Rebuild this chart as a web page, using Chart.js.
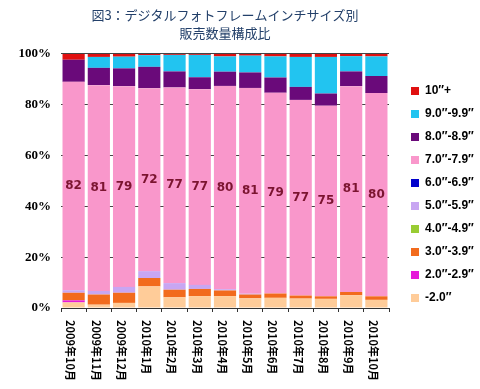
<!DOCTYPE html>
<html>
<head>
<meta charset="utf-8">
<script src="https://cdn.jsdelivr.net/npm/chart.js@4"></script>
<style>
  body { margin: 0; background: #fff; }
</style>
</head>
<body>
<canvas id="myChart" width="480" height="389"></canvas>
<script>
'use strict';

let months = ['2009年10月', '2009年11月', '2009年12月', '2010年1月', '2010年2月', '2010年3月', '2010年4月',
  '2010年5月', '2010年6月', '2010年7月', '2010年8月', '2010年9月', '2010年10月'];

// share of units sold per size band, % (bottom of the stack first)
let under2 = [2.2, 1.3, 2.0, 8.5, 4.2, 4.7, 4.7, 3.8, 4.0, 3.7, 3.6, 5.0, 3.2];
let size2 = [0.8, 0, 0, 0, 0, 0, 0, 0, 0, 0, 0, 0, 0];
let size3 = [3.0, 4.0, 4.0, 3.3, 3.0, 2.8, 2.2, 1.5, 1.7, 1.2, 1.0, 1.3, 1.4];
let size4 = [0, 0, 0, 0, 0, 0, 0, 0, 0, 0, 0, 0, 0];
let size5 = [1.0, 1.4, 2.3, 2.7, 2.6, 1.6, 0.5, 0.3, 0, 0, 0, 0, 0];
let size6 = [0, 0, 0, 0, 0, 0, 0, 0, 0, 0, 0, 0, 0];
let size7 = [82, 81, 79, 72, 77, 77, 80, 81, 79, 77, 75, 81, 80];
let size8 = [8.7, 6.8, 7.0, 8.4, 6.3, 4.7, 5.6, 6.1, 6.0, 5.1, 4.8, 5.8, 6.7];
let size9 = [0, 4.3, 4.6, 4.6, 6.5, 8.8, 6.0, 6.6, 8.3, 11.8, 14.4, 6.0, 7.7];
let size10 = [2.3, 1.2, 1.1, 0.5, 0.4, 0.4, 1.0, 0.7, 1.0, 1.2, 1.2, 0.9, 1.0];

let seriesNames = ['-2.0″', '2.0″-2.9″', '3.0″-3.9″', '4.0″-4.9″', '5.0″-5.9″',
  '6.0″-6.9″', '7.0″-7.9″', '8.0″-8.9″', '9.0″-9.9″', '10″+'];
let seriesData = [under2, size2, size3, size4, size5, size6, size7, size8, size9, size10];
let seriesColors = ['#FFCC99', '#E619D9', '#F26B1D', '#99CC33', '#C8A6F2',
  '#0000CC', '#F997CB', '#6A0A7A', '#22C4F0', '#E01010'];

let labelSeries = 6; // the 7.0"-7.9" band carries the value labels

let datasets = [];
for (let i = 0; i < seriesData.length; i++) {
  datasets.push({
    label: seriesNames[i],
    data: seriesData[i],
    backgroundColor: seriesColors[i],
    borderWidth: 0,
    barPercentage: 0.88,
    categoryPercentage: 1
  });
}

// numbers inside the pink band
let valueLabels = {
  id: 'valueLabels',
  afterDatasetsDraw(chart) {
    let ctx = chart.ctx;
    let meta = chart.getDatasetMeta(labelSeries);
    ctx.save();
    ctx.font = 'bold 12px "DejaVu Sans"';
    ctx.fillStyle = '#7B1430';
    ctx.textAlign = 'center';
    ctx.textBaseline = 'middle';
    meta.data.forEach(function (bar, i) {
      let y = (bar.y + bar.base) / 2;
      ctx.fillText(String(Math.round(size7[i])), bar.x, y);
    });
    ctx.restore();
  }
};

// month names turned a quarter clockwise under each bar
let monthLabels = {
  id: 'monthLabels',
  afterDraw(chart) {
    let ctx = chart.ctx;
    let xScale = chart.scales.x;
    ctx.save();
    ctx.font = 'bold 11px "Noto Sans CJK JP"';
    ctx.fillStyle = '#000';
    ctx.textAlign = 'left';
    ctx.textBaseline = 'middle';
    for (let i = 0; i < months.length; i++) {
      let x = xScale.getPixelForValue(i) - 3;
      ctx.save();
      ctx.translate(x, chart.chartArea.bottom + 12);
      ctx.rotate(Math.PI / 2);
      ctx.fillText(months[i], 0, 0);
      ctx.restore();
    }
    ctx.restore();
  }
};

let ctx = document.getElementById('myChart');

let config = {
  type: 'bar',
  data: {
    labels: months,
    datasets: datasets
  },
  options: {
    responsive: false,
    animation: false,
    layout: { padding: 0 },
    plugins: {
      title: {
        display: true,
        fullSize: false,
        text: ['図3：デジタルフォトフレームインチサイズ別', '販売数量構成比'],
        color: '#23406A',
        font: { family: '"Noto Sans CJK JP"', size: 13, weight: 'normal', lineHeight: 1.38 },
        padding: { top: 6, bottom: 12 }
      },
      legend: {
        position: 'right',
        fullSize: true,
        reverse: true,
        labels: {
          boxWidth: 8,
          boxHeight: 8,
          padding: 11,
          color: '#000',
          font: { family: '"Liberation Sans"', size: 12, weight: 'bold' }
        }
      },
      tooltip: { enabled: false }
    },
    scales: {
      x: {
        stacked: true,
        afterFit: function (scale) { scale.height = 81; },
        grid: {
          offset: true,
          drawOnChartArea: false,
          drawTicks: true,
          tickLength: 4,
          color: '#333'
        },
        border: { display: true, color: '#333', width: 1 },
        ticks: { display: false }
      },
      y: {
        stacked: true,
        min: 0,
        max: 100,
        afterFit: function (scale) { scale.width = 61; },
        grid: { color: '#444', drawTicks: false },
        border: { display: false },
        ticks: {
          stepSize: 20,
          padding: 10,
          color: '#000',
          font: { family: '"Liberation Serif"', size: 13, weight: 'bold' },
          callback: function (value) { return value + '%'; }
        }
      },
      pad: {
        position: 'right',
        display: true,
        afterFit: function (scale) { scale.width = 11; },
        grid: { display: false },
        border: { display: false },
        ticks: { display: false }
      }
    }
  },
  plugins: [valueLabels, monthLabels]
};

new Chart(ctx, config);
</script>
</body>
</html>
